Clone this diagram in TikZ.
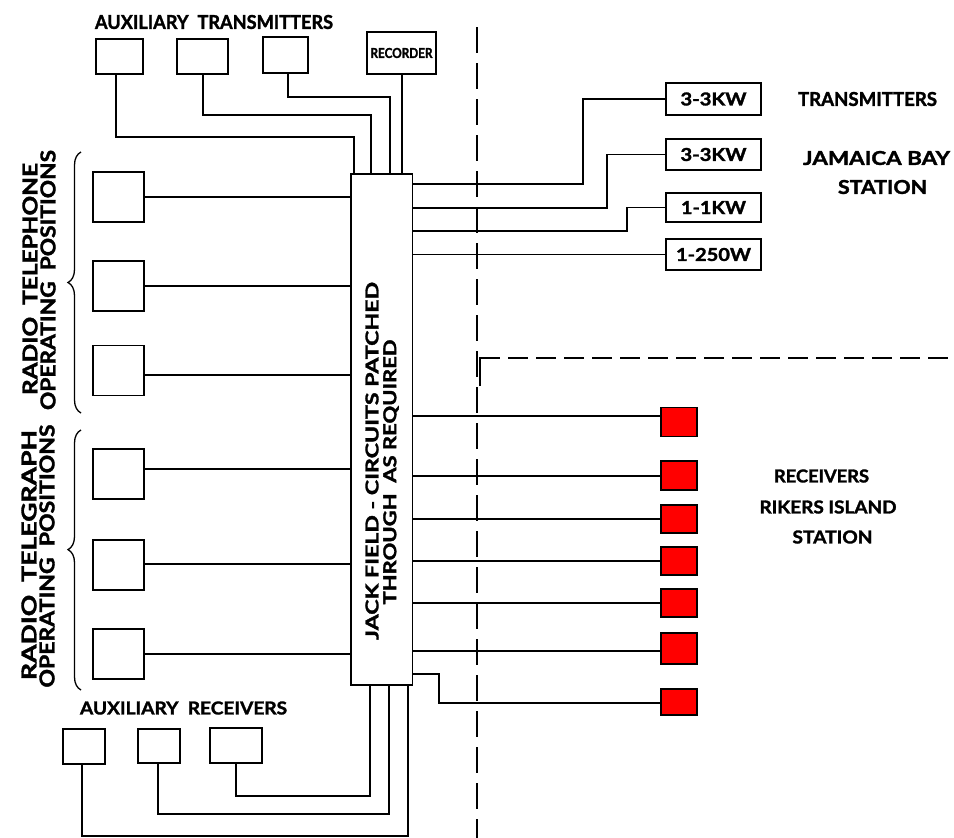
\documentclass[tikz,border=0pt]{standalone}
\usepackage{fontspec}
\setmainfont{Lato}[BoldFeatures={FakeBold=1.6}]
\usetikzlibrary{decorations.pathreplacing}
\newcommand{\fitlbl}[3]{\resizebox{#1pt}{#2pt}{\bfseries #3}}
\begin{document}
\begin{tikzpicture}[x=1pt,y=-1pt,
  box/.style={draw, line width=1.7pt, inner sep=0pt, outer sep=0pt},
  rbox/.style={box, fill=red, minimum width=36pt},
  pbox/.style={box, minimum width=51pt, minimum height=50pt},
  wire/.style={line width=1.3pt},
  lbl/.style={inner sep=0pt, outer sep=0pt},
  brc/.style={line width=1.3pt, decorate, decoration={brace, amplitude=13pt}}]
\fill[white] (0,0) rectangle (954,838);
\useasboundingbox (0,0) rectangle (954,838);

% dashed boundaries
\draw[line width=1.4pt, dash pattern=on 26pt off 10pt] (477,27) -- (477,838);
\draw[line width=1.4pt] (480,386) -- (480,358) -- (500,358);
\draw[line width=1.4pt, dash pattern=on 20pt off 8pt] (508,358) -- (954,358);

% jack field
\node[box, minimum width=61.5pt, minimum height=511pt] (jack) at (381.75,429.5) {};
\node[lbl, rotate=90] (jt1) at (372,461) {\fitlbl{358}{13}{JACK FIELD - CIRCUITS PATCHED}};
\node[lbl, rotate=90] (jt2) at (391,472) {\fitlbl{265}{13}{THROUGH\ \ AS REQUIRED}};

% auxiliary transmitters
\node[lbl] (auxt) at (214,22) {\fitlbl{238}{14}{AUXILIARY\ \ TRANSMITTERS}};
\node[box, minimum width=47pt, minimum height=35pt] (a1) at (119.5,56.5) {};
\node[box, minimum width=51pt, minimum height=35pt] (a2) at (202.5,56.5) {};
\node[box, minimum width=45pt, minimum height=36pt] (a3) at (285.5,55) {};
\node[box, minimum width=69pt, minimum height=42pt] (rec) at (401.5,53) {\fitlbl{62}{10}{RECORDER}};
\draw[wire] (a1.south -| 116,0) |- (354,137) -- (jack.north -| 354,0);
\draw[wire] (a2.south -| 203,0) |- (371,115) -- (jack.north -| 371,0);
\draw[wire] (a3.south -| 288,0) |- (390,97) -- (jack.north -| 390,0);
\draw[wire] (rec.south -| 402,0) -- (jack.north -| 402,0);

% operating positions
\node[pbox] (p1) at (118.5,197) {};
\node[pbox] (p2) at (118.5,286) {};
\node[pbox] (p3) at (118.5,370.5) {};
\node[pbox] (g1) at (118.5,474) {};
\node[pbox] (g2) at (118.5,565) {};
\node[pbox] (g3) at (118.5,654) {};
\draw[wire] (p1.east |- 0,197) -- (jack.west |- 0,197);
\draw[wire] (p2.east |- 0,286) -- (jack.west |- 0,286);
\draw[wire] (p3.east |- 0,375) -- (jack.west |- 0,375);
\draw[wire] (g1.east |- 0,469) -- (jack.west |- 0,469);
\draw[wire] (g2.east |- 0,564) -- (jack.west |- 0,564);
\draw[wire] (g3.east |- 0,654) -- (jack.west |- 0,654);

\draw[brc] (81,413) -- (81,152);
\draw[brc, decoration={aspect=0.54}] (81,690) -- (81,430);
\node[lbl, rotate=90] (rt1) at (30,279) {\fitlbl{232}{15}{RADIO\ \ TELEPHONE}};
\node[lbl, rotate=90] (rt2) at (48,280) {\fitlbl{260}{15}{OPERATING\ \ POSITIONS}};
\node[lbl, rotate=90] (rg1) at (29,555) {\fitlbl{250}{15}{RADIO\ \ TELEGRAPH}};
\node[lbl, rotate=90] (rg2) at (47,556) {\fitlbl{263}{15}{OPERATING\ \ POSITIONS}};

% Jamaica Bay transmitters
\node[box, minimum width=95pt, minimum height=32pt] (t1) at (713.5,99) {\fitlbl{66}{13}{3-3KW}};
\node[box, minimum width=95pt, minimum height=31pt] (t2) at (713.5,154.5) {\fitlbl{66}{13}{3-3KW}};
\node[box, minimum width=95pt, minimum height=29pt] (t3) at (713.5,207.5) {\fitlbl{65}{13}{1-1KW}};
\node[box, minimum width=95pt, minimum height=31pt] (t4) at (713.5,254.5) {\fitlbl{75}{13}{1-250W}};
\draw[wire] (jack.east |- 0,184) -- (583,184) |- (t1.west);
\draw[wire] (jack.east |- 0,208) -- (607,208) |- (t2.west);
\draw[wire] (jack.east |- 0,231) -- (627,231) |- (t3.west);
\draw[wire] (jack.east |- t4.west) -- (t4.west);
\node[lbl] (trn) at (867.5,99) {\fitlbl{139}{14}{TRANSMITTERS}};
\node[lbl] (jam) at (876.5,158) {\fitlbl{147}{14}{JAMAICA BAY}};
\node[lbl] (sta1) at (882.5,187) {\fitlbl{89}{14}{STATION}};

% Rikers Island receivers
\node[rbox, minimum height=29pt] (r1) at (679,422) {};
\node[rbox, minimum height=29pt] (r2) at (679,475.5) {};
\node[rbox, minimum height=28pt] (r3) at (679,519) {};
\node[rbox, minimum height=28pt] (r4) at (679,561) {};
\node[rbox, minimum height=28pt] (r5) at (679,603) {};
\node[rbox, minimum height=31pt] (r6) at (679,648.5) {};
\node[rbox, minimum height=26pt] (r7) at (679,702) {};
\draw[wire] (jack.east |- 0,416) -- (r1.west |- 0,416);
\draw[wire] (jack.east |- 0,476) -- (r2.west |- 0,476);
\draw[wire] (jack.east |- 0,519) -- (r3.west |- 0,519);
\draw[wire] (jack.east |- 0,561) -- (r4.west |- 0,561);
\draw[wire] (jack.east |- 0,603) -- (r5.west |- 0,603);
\draw[wire] (jack.east |- 0,651) -- (r6.west |- 0,651);
\draw[wire] (jack.east |- 0,674) -- (439,674) |- (r7.west |- 0,703);
\node[lbl] (rcv) at (821.5,476) {\fitlbl{95}{13}{RECEIVERS}};
\node[lbl] (rik) at (828,507) {\fitlbl{137}{13}{RIKERS ISLAND}};
\node[lbl] (sta2) at (832.5,537) {\fitlbl{80}{13}{STATION}};

% auxiliary receivers
\node[lbl] (auxr) at (183.5,708) {\fitlbl{207}{13}{AUXILIARY\ \ RECEIVERS}};
\node[box, minimum width=42pt, minimum height=35pt] (b1) at (84,746.5) {};
\node[box, minimum width=42pt, minimum height=34pt] (b2) at (159,746) {};
\node[box, minimum width=52pt, minimum height=35pt] (b3) at (236,745.5) {};
\draw[wire] (b1.south -| 82,0) |- (408,836) -- (jack.south -| 408,0);
\draw[wire] (b2.south -| 158,0) |- (389,814) -- (jack.south -| 389,0);
\draw[wire] (b3.south -| 236,0) |- (370,796) -- (jack.south -| 370,0);
\end{tikzpicture}
\end{document}
